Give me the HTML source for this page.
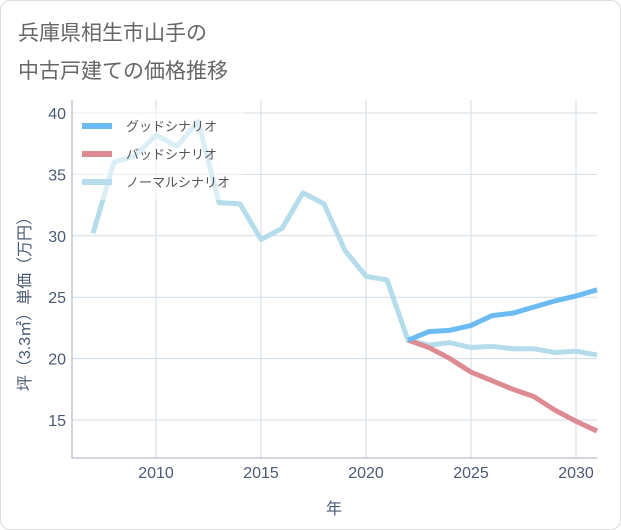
<!DOCTYPE html>
<html><head><meta charset="utf-8"><style>
body{margin:0;background:#fff;font-family:"Liberation Sans","Noto Sans CJK JP",sans-serif}
#wrap{position:relative;width:621px;height:530px}
#bg{position:absolute;left:0;top:0;width:619px;height:528px;border:1px solid #ddd;border-radius:10px;background:#fff}
</style></head><body>
<div id="wrap">
<div id="bg"></div>
<svg id="svg" width="621" height="530" style="position:absolute;left:0;top:0">
<text x="18" y="40" font-size="21" fill="#666">兵庫県相生市山手の</text>
<text x="18" y="78" font-size="21" fill="#666">中古戸建ての価格推移</text>
</svg>
</div>
<script>
const years=[2007,2008,2009,2010,2011,2012,2013,2014,2015,2016,2017,2018,2019,2020,2021,2022,2023,2024,2025,2026,2027,2028,2029,2030,2031];
const normal=[30.2,36,36.5,38.2,37.3,39.3,32.7,32.6,29.7,30.6,33.5,32.6,28.8,26.7,26.4,21.5,21.1,21.3,20.9,21.0,20.8,20.8,20.5,20.6,20.3];
const goodYears=[2022,2023,2024,2025,2026,2027,2028,2029,2030,2031];
const good=[21.5,22.2,22.3,22.7,23.5,23.7,24.2,24.7,25.1,25.6];
const bad=[21.5,20.9,20.0,18.9,18.2,17.5,16.9,15.8,14.9,14.1];
const xTicks=[2010,2015,2020,2025,2030];
const yTicks=[15,20,25,30,35,40];
const legendLabels=["グッドシナリオ","バッドシナリオ","ノーマルシナリオ"];
const NS="http://www.w3.org/2000/svg";
const svg=document.getElementById('svg');
const L=72,R=597,T=100,B=458;
const xs=y=>156+(y-2010)*21;
const ys=v=>113+(40-v)*12.28;
const TC='#4a5a75';
function mk(t,a,p){const e=document.createElementNS(NS,t);for(const k in a)e.setAttribute(k,a[k]);(p||svg).appendChild(e);return e;}
let g=mk('g',{});


xTicks.forEach(t=>{const l=mk('line',{x1:xs(t),x2:xs(t),y1:T,y2:B,stroke:'#d0dbe5'},g);


const tx=mk('text',{x:xs(t),y:478,'font-size':16,fill:TC,'text-anchor':'middle'});tx.textContent=t;

});
yTicks.forEach(t=>{const l=mk('line',{x1:L,x2:R,y1:ys(t),y2:ys(t),stroke:'#d0dbe5'},g);


const tx=mk('text',{x:66,y:ys(t)+6,'font-size':16,fill:TC,'text-anchor':'end'});tx.textContent=t;

});
const ax=mk('path',{d:`M${L} ${T}V${B}H${R}`,fill:'none',stroke:'#aab'});


function line(xv,yv,c,w,n){const p=mk('polyline',{points:xv.map((x,i)=>xs(x)+','+ys(yv[i])).join(' '),fill:'none',stroke:c,'stroke-width':w,'stroke-linejoin':'round'});

}
line(years,normal,'#b5dcea',5,'normal-line');
line(goodYears,bad,'#de8a92',5,'bad-line');
line(goodYears,good,'#6bbaf2',5,'good-line');
const lg=mk('g',{});


mk('rect',{x:74,y:110,width:170,height:90,fill:'rgba(255,255,255,0.5)'},lg);
const cols=['#6bbaf2','#de8a92','#b5dcea'];
legendLabels.forEach((s,i)=>{const y=126+i*28;
const sw=mk('line',{x1:82,x2:112,y1:y,y2:y,stroke:cols[i],'stroke-width':6},lg);


const t=mk('text',{x:126,y:y+5,'font-size':13,fill:'#555'},lg);t.textContent=s;

});
const xt=mk('text',{x:334,y:514,'font-size':16,fill:TC,'text-anchor':'middle'});xt.textContent='年';


const yt=mk('text',{x:0,y:0,'font-size':16,fill:TC,'text-anchor':'middle',transform:'translate(30,300) rotate(-90)'});yt.textContent='坪（3.3㎡）単価（万円）';


</script>
</body></html>
